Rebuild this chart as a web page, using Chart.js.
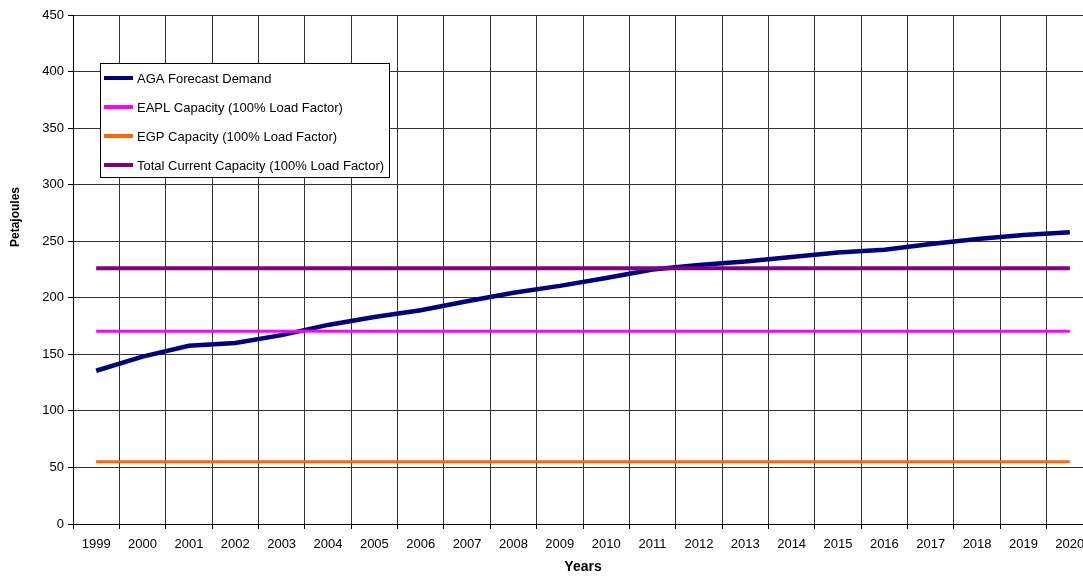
<!DOCTYPE html>
<html>
<head>
<meta charset="utf-8">
<script src="https://cdn.jsdelivr.net/npm/chart.js@4/dist/chart.umd.min.js"></script>
<style>
  html, body { margin: 0; padding: 0; background: #fff; overflow: hidden; }
  #wrap { width: 1100px; height: 577px; }
</style>
</head>
<body>
<div id="wrap"><canvas id="chart" width="1100" height="577"></canvas></div>
<script>
// dados do grafico
const years = ['1999', '2000', '2001', '2002', '2003', '2004', '2005', '2006', '2007', '2008', '2009',
    '2010', '2011', '2012', '2013', '2014', '2015', '2016', '2017', '2018', '2019', '2020'];
const agaDemand = [135.5, 148, 157.5, 160, 167, 176, 183, 189, 197, 204.5, 210.5,
    217.5, 225, 229, 232, 236, 240, 242.5, 247.5, 252, 255.5, 258];
const eaplCapacity = years.map(() => 170.5);
const egpCapacity = years.map(() => 55);
const totalCapacity = years.map(() => 226);
const yTicks = [0, 50, 100, 150, 200, 250, 300, 350, 400, 450];

const FONT = '"Liberation Sans", Arial, sans-serif';

// legenda desenhada dentro da area do grafico
const boxLegend = {
    id: 'boxLegend',
    afterDatasetsDraw(chart, args, opts) {
        const ctx = chart.ctx;
        ctx.save();
        ctx.fillStyle = '#fff';
        ctx.fillRect(opts.x, opts.y, opts.w, opts.h);
        ctx.strokeStyle = '#000';
        ctx.lineWidth = 1;
        ctx.strokeRect(opts.x + 0.5, opts.y + 0.5, opts.w, opts.h);
        ctx.font = '13px ' + FONT;
        ctx.textBaseline = 'middle';
        chart.data.datasets.forEach((ds, i) => {
            const y = opts.y + opts.first + i * opts.step;
            ctx.strokeStyle = ds.borderColor;
            ctx.lineWidth = 4;
            ctx.beginPath();
            ctx.moveTo(opts.x + 4, y);
            ctx.lineTo(opts.x + 33, y);
            ctx.stroke();
            ctx.fillStyle = '#000';
            ctx.fillText(ds.label, opts.x + 37, y + 1);
        });
        ctx.restore();
    }
};

// titulo do eixo Y, um pouco acima do centro como no original
const yTitle = {
    id: 'yTitle',
    afterDraw(chart, args, opts) {
        const ctx = chart.ctx;
        ctx.save();
        ctx.translate(opts.x, opts.y);
        ctx.rotate(-Math.PI / 2);
        ctx.font = 'bold 12px ' + FONT;
        ctx.fillStyle = '#000';
        ctx.textAlign = 'center';
        ctx.textBaseline = 'middle';
        ctx.fillText(opts.text, 0, 0);
        ctx.restore();
    }
};

const ctx = document.getElementById('chart').getContext('2d');
new Chart(ctx, {
    type: 'line',
    data: {
        labels: years,
        datasets: [
            { label: 'AGA Forecast Demand', data: agaDemand, borderColor: '#000080', borderWidth: 4.5, order: 4 },
            { label: 'EAPL Capacity (100% Load Factor)', data: eaplCapacity, borderColor: '#ff00ff', borderWidth: 3, order: 3 },
            { label: 'EGP Capacity (100% Load Factor)', data: egpCapacity, borderColor: '#ff6600', borderWidth: 3, order: 2 },
            { label: 'Total Current Capacity (100% Load Factor)', data: totalCapacity, borderColor: '#800080', borderWidth: 4, order: 1 }
        ]
    },
    options: {
        responsive: false,
        animation: false,
        layout: { padding: { top: 15, right: 7, left: 0, bottom: 0 } },
        elements: { point: { radius: 0 }, line: { tension: 0, borderCapStyle: 'butt' } },
        scales: {
            x: {
                offset: true,
                grid: { offset: true, color: '#333', lineWidth: 1, tickLength: 5, tickColor: '#000' },
                border: { color: '#000', width: 1 },
                ticks: { color: '#000', font: { family: FONT, size: 13 }, maxRotation: 0, autoSkip: false, padding: 8 },
                title: { display: true, text: 'Years', color: '#000', font: { family: FONT, size: 14, weight: 'bold' }, padding: { top: 0, bottom: 1 } },
                afterFit: (s) => { s.height = 53; }
            },
            y: {
                min: 0,
                max: 450,
                afterBuildTicks: (s) => { s.ticks = yTicks.map(v => ({ value: v })); },
                grid: { color: '#333', lineWidth: 1, tickLength: 5, tickColor: '#000' },
                border: { color: '#000', width: 1 },
                ticks: { color: '#000', font: { family: FONT, size: 13 }, padding: 4 },
                afterFit: (s) => { s.width = 73; }
            }
        },
        plugins: {
            legend: { display: false },
            tooltip: { enabled: false },
            boxLegend: { x: 100, y: 63, w: 289, h: 114, first: 15, step: 29 },
            yTitle: { text: 'Petajoules', x: 16, y: 217 }
        }
    },
    plugins: [boxLegend, yTitle]
});
</script>
</body>
</html>
